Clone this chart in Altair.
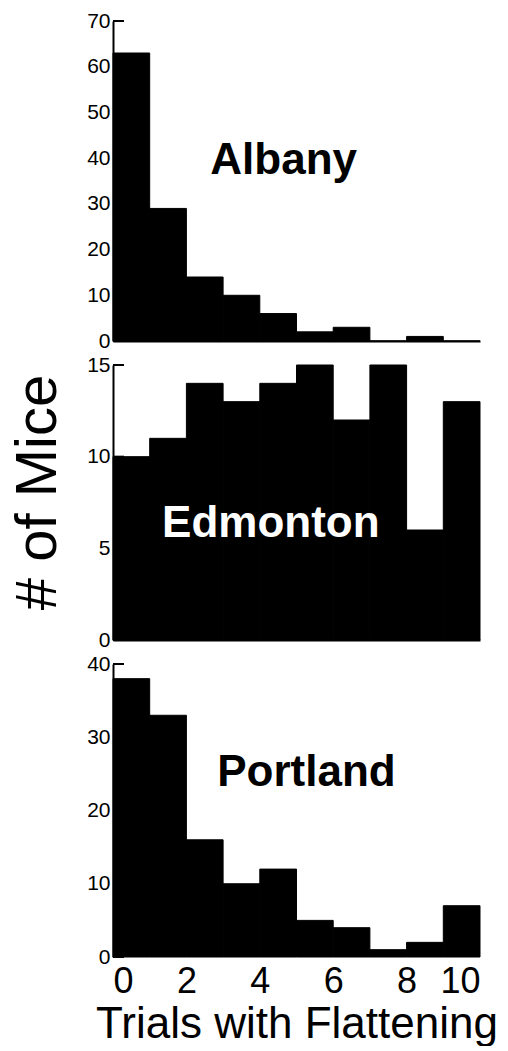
import altair as alt
import pandas as pd

# ---- data ----
bin_start = [0, 1, 2, 3, 4, 5, 6, 7, 8, 9]
bin_end = [1, 2, 3, 4, 5, 6, 7, 8, 9, 10]
albany_counts = [63, 29, 14, 10, 6, 2, 3, 0, 1, 0]
edmonton_counts = [10, 11, 14, 13, 14, 15, 12, 15, 6, 13]
portland_counts = [38, 33, 16, 10, 12, 5, 4, 1, 2, 7]

albany_ticks = [0, 10, 20, 30, 40, 50, 60, 70]
edmonton_ticks = [0, 5, 10, 15]
portland_ticks = [0, 10, 20, 30, 40]
x_ticks = [0, 2, 4, 6, 8, 10]

panel_names = ["Albany", "Edmonton", "Portland"]
label_x = [4.65, 4.3, 5.27]
label_y = [39.3, 6.33, 25.1]
label_colors = ["black", "white", "black"]

FONT = "Liberation Sans"


def panel(idx, counts, yticks, height, show_x, ytitle):
    df = pd.DataFrame({"start": bin_start, "end": bin_end, "count": counts})
    xscale = alt.Scale(domain=[0, 10], nice=False, zero=False)
    yscale = alt.Scale(domain=[yticks[0], yticks[-1]], nice=False)

    if show_x:
        xaxis = alt.Axis(values=x_ticks, labelFontSize=36, labelFont=FONT,
                         labelColor="black", labelPadding=7, ticks=False,
                         tickSize=0, domain=False, grid=False,
                         title="Trials with Flattening", titleFont=FONT,
                         titleFontSize=44, titleFontWeight="normal",
                         titleColor="black", titlePadding=3)
    else:
        xaxis = alt.Axis(labels=False, ticks=False, tickSize=0, grid=False,
                         title=None, domainColor="black", domainWidth=2)

    yargs = dict(values=yticks, labelFontSize=21, labelFont=FONT,
                 labelColor="black", labelPadding=3, ticks=False, tickSize=0,
                 grid=False, domainColor="black", domainWidth=2,
                 labelOverlap=False)
    if ytitle:
        yargs.update(title=ytitle, titleFont=FONT, titleFontSize=58,
                     titleFontWeight="normal", titleColor="black",
                     titleAngle=270, titleAlign="center",
                     titleBaseline="alphabetic", titleX=-58, titleY=127)
    else:
        yargs.update(title=None)
    yaxis = alt.Axis(**yargs)

    tick_df = pd.DataFrame({"v": yticks})
    tick_rules = alt.Chart(tick_df).mark_rule(color="black", strokeWidth=2).encode(
        y=alt.Y("v:Q", scale=yscale, axis=yaxis),
        x=alt.value(0), x2=alt.value(11),
    )
    bars = alt.Chart(df).mark_rect(color="black", stroke="black",
                                   strokeWidth=1).encode(
        x=alt.X("start:Q", scale=xscale, axis=xaxis),
        x2="end:Q",
        y=alt.Y("count:Q", scale=yscale, axis=yaxis),
        y2=alt.datum(0),
    )
    lab_df = pd.DataFrame({"name": [panel_names[idx]], "lx": [label_x[idx]],
                           "ly": [label_y[idx]]})
    label = alt.Chart(lab_df).mark_text(
        font=FONT, fontSize=44, fontWeight="bold", color=label_colors[idx],
        align="center", baseline="middle",
    ).encode(
        x=alt.X("lx:Q", scale=xscale, axis=xaxis),
        y=alt.Y("ly:Q", scale=yscale, axis=yaxis),
        text="name:N",
    )
    return alt.layer(tick_rules, bars, label).properties(width=367, height=height)


p1 = panel(0, albany_counts, albany_ticks, 320, False, None)
p2 = panel(1, edmonton_counts, edmonton_ticks, 275, False, "# of Mice")
p3 = panel(2, portland_counts, portland_ticks, 293, True, None)

chart = alt.vconcat(p1, p2, p3, spacing=24, bounds="flush").configure_view(
    stroke=None
).properties(padding={"left": 0, "top": 2, "right": 0, "bottom": 0},
             background="white")

chart.save("out.html", embed_options={"renderer": "svg", "actions": False})
